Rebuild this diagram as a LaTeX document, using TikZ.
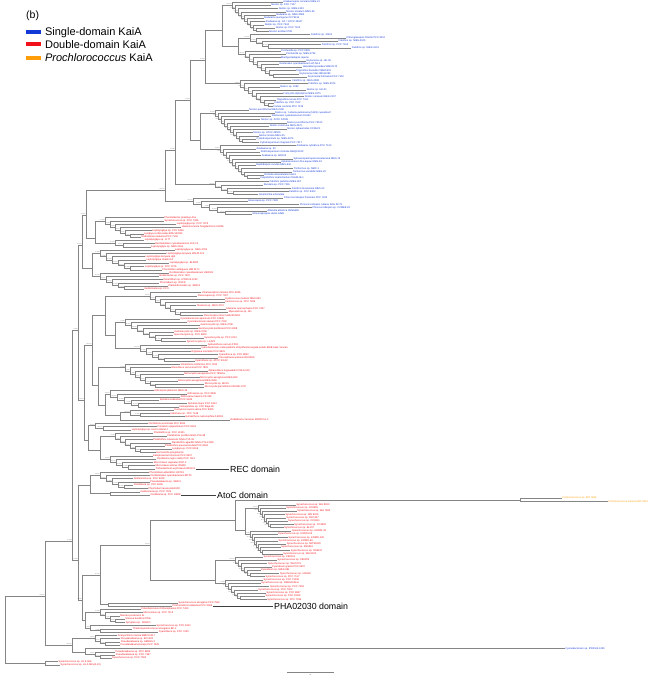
\documentclass[tikz,border=0pt]{standalone}
\usepackage{fontspec}
\setmainfont{Liberation Sans}
\usetikzlibrary{positioning}

\definecolor{KaiBlue}{HTML}{1238D6}
\definecolor{KaiRed}{HTML}{F2101A}
\definecolor{KaiOrange}{HTML}{FF9E0A}
\definecolor{TreeGray}{HTML}{858585}

\newcommand\leaffont{\fontsize{2.5}{2.7}\selectfont}
\newcommand\suppfont{\fontsize{1.3}{1.4}\selectfont}
\def\yzero{2}
\def\ystep{3.265}

% support value shown at an inner node
\newcommand\suppval[1]{\ifcase#1 100/100\or 99.6/100\or 97.8/99\or 100/98\or 86.2/94\fi}

% ladder clade: name, parent, x of first node, first leaf index, step, tip x, tip spread, colour, labels
\newcommand\kaiclade[9]{%
  \foreach \lab [count=\k] in {#9} {\xdef\nleaf{\k}}%
  \foreach \lab [count=\k] in {#9} {%
    \pgfmathtruncatemacro\kn{min(\k,\nleaf-1)}%
    \pgfmathsetmacro\xn{#3+#5*(\kn-1)}%
    \pgfmathsetmacro\yl{\yzero+\ystep*(#4+\k-1)}%
    \pgfmathsetmacro\xt{max(#6+#7*rnd,\xn+5)}%
    \coordinate (#1-\k) at (\xt,\yl);
    \node[leaf,text=#8] (#1-l\k) at (#1-\k) {\lab};
    \ifnum\k<\nleaf
      \pgfmathsetmacro\yn{\yl+\ystep*(1-2^(\k-\nleaf))}%
      \pgfmathtruncatemacro\sidx{mod(\k+#4,5)}%
      \coordinate (#1-n\k) at (\xn,\yn);
      \node[supp] at (#1-n\k) {\suppval{\sidx}};
    \fi
  }%
  \draw[branch] (#2) |- (#1-n1);
  \foreach \k in {1,...,\nleaf} {%
    \pgfmathtruncatemacro\kn{min(\k,\nleaf-1)}%
    \draw[branch] (#1-n\kn) |- (#1-\k);
    \ifnum\k<\numexpr\nleaf-1\relax
      \pgfmathtruncatemacro\kk{\k+1}%
      \draw[branch] (#1-n\k) |- (#1-n\kk);
    \fi
  }%
}

% single leaf: name, parent, index, tip x, colour, label
\newcommand\kaileaf[6]{%
  \pgfmathsetmacro\yl{\yzero+\ystep*#3}%
  \coordinate (#1) at (#4,\yl);
  \draw[branch] (#2) |- (#1);
  \node[leaf,text=#5] (#1-l) at (#1) {#6};
}

\begin{document}
\begin{tikzpicture}[x=1pt,y=-1pt,
    branch/.style={draw=TreeGray, line width=0.4pt},
    leaf/.style={anchor=west, inner sep=0.4pt, font=\leaffont},
    supp/.style={anchor=south east, inner sep=0.2pt, font=\suppfont, text=black!55},
    domtag/.style={anchor=west, inner sep=1pt, font=\fontsize{8.8}{10}\selectfont},
    domline/.style={draw=black!75, line width=0.5pt},
    swatch/.style={minimum width=15pt, minimum height=4pt, inner sep=0pt},
    legtext/.style={font=\fontsize{11}{13}\selectfont, inner sep=0pt}]

  \useasboundingbox (0,0) rectangle (669,677);
  \pgfmathsetseed{17}

  % legend
  \node[anchor=west, inner sep=0pt, font=\fontsize{10.5}{12}\selectfont] (tag) at (26,16) {(b)};
  \node[swatch, fill=KaiBlue]   (swS) at (33.2,32.5) {};
  \node[swatch, fill=KaiRed]    (swD) at (33.2,44.2) {};
  \node[swatch, fill=KaiOrange] (swP) at (33.2,57.8) {};
  \node[legtext, right=4pt of swS] (txS) {Single-domain KaiA};
  \node[legtext, right=4pt of swD] (txD) {Double-domain KaiA};
  \node[legtext, right=4pt of swP] (txP) {\itshape Prochlorococcus\upshape{} KaiA};

  % backbone nodes
  \foreach \n/\x/\y in {R0/5/630, N1/45/596, N2/72/541, N3/78/330, K/82/245,
      N4/86/215, X/165/190, U/175/150, V/190/100, W/205/60, Wa/222/30,
      Bb/238/46, Y/200/140, L/95/238, M/92/268, Q/84/400, C/92/345,
      C1/105/315, C1b/115/335, C2/98/385, C2b/105/405, Cfr/120/415,
      Q2/88/440, O/100/450, N6/78/560, P/90/485, Pb/110/493.4, N7/82/600,
      S/100/575, S1/150/545, S1a/235/520, Or/520/499.9, Sy1/245/530,
      Sy2/215/580, SEP/108/604.4, N8/85/620, NP/72/645, PsB/85/652, JA/45/663.1}
    \coordinate (\n) at (\x,\y);

  \foreach \a/\b in {R0/N1, R0/JA, N1/N2, N1/NP, N2/N3, N2/N6, N3/K, N3/Q,
      K/N4, K/M, N4/X, N4/L, X/U, U/V, V/W, V/Y, W/Wa, Wa/Bb, Q/C, Q/Q2,
      C/C1, C/C2, C1/C1b, C2/C2b, C2b/Cfr, Q2/O, N6/P, N6/N7, P/Pb, N7/S,
      N7/N8, S/S1, S/SEP, S1/S1a, S1/Sy2, S1a/Or, S1a/Sy1, NP/PsB}
    \draw[branch] (\a) |- (\b);

  \foreach \n [count=\i] in {N1, N2, N3, K, N4, X, U, V, W, Q, C, N6, N7, S, S1, NP}
    {\pgfmathtruncatemacro\sidx{mod(\i,5)}\node[supp] at (\n) {\suppval{\sidx}};}

  % single-domain clades
  \kaiclade{Ba}{Wa}{232}{0}{3}{262}{25}{KaiBlue}{Anabaenopsis circularis NIES-21,
    Nostoc sp. PCC 7107, Nostoc sp. NIES-4103, Nostoc minutum NIES-26,
    Nodularia sp. NIES-3585, Nodularia spumigena CCY9414, Anabaena sp. CA = ATCC 33047,
    Nostoc sp. PCC 7524, Nostoc sp. PCC 7120, Nostoc azollae 0708}
  \kaiclade{Bb1}{Bb}{250}{10}{6}{300}{60}{KaiBlue}{Calothrix sp. 336/3,
    Chlorogloeopsis fritschii PCC 9212, Calothrix sp. NIES-4105,
    Calothrix sp. PCC 7103, Calothrix sp. NIES-4101}
  \kaiclade{Bb2}{Bb}{245}{15}{4}{275}{40}{KaiBlue}{Fischerella sp. PCC 9605,
    Fischerella sp. NIES-3754, Mastigocladopsis repens, Scytonema sp. HK-05,
    Nostocales cyanobacterium HT-58-2, Hassallia byssoidea VB512170,
    Tolypothrix bouteillei VB521301, Scytonema millei VB511283, Scytonema hofmannii PCC 7110}
  \kaiclade{Bc}{W}{240}{24}{4}{272}{40}{KaiBlue}{Calothrix sp. NIES-2098,
    Calothrix sp. NIES-3974, Nostoc sp. 106C, Nostoc sp. HK-01,
    Fremyella diplosiphon NIES-3275, Nostoc carneum NIES-2107,
    Tolypothrix tenuis PCC 7101, Calothrix sp. PCC 7507, Fortiea contorta PCC 7126}
  \kaiclade{Bd}{Y}{215}{33}{3}{248}{40}{KaiBlue}{Nostoc punctiforme NIES-2108,
    Nostoc sp. 'Lobaria pulmonaria (5183) cyanobiont', Nostocales cyanobacterium KU-B2,
    Nostoc sp. ATCC 53789, Nostoc punctiforme PCC 73102, Nostoc commune NIES-4072,
    Nostoc sphaeroides CCNUC1, Nostoc sp. ATCC 43529, Nostoc linckia NIES-25,
    Cylindrospermum sp. NIES-4074, Cylindrospermum stagnale PCC 7417}
  \kaiclade{Be}{Y}{220}{44}{3}{255}{45}{KaiBlue}{Anabaena cylindrica PCC 7122,
    Anabaena sp. 90, Dolichospermum circinale AWQC131C, Anabaena sp. WA102,
    Sphaerospermopsis kisseleviana NIES-73, Aphanizomenon flos-aquae NIES-81,
    Raphidiopsis curvata NIES-932, Trichormus sp. NMC-1, Trichormus variabilis NIES-23,
    Richelia intracellularis HH01, Cuspidothrix issatschenkoi CHARLIE-1}
  \kaiclade{Bf}{U}{215}{55}{6}{255}{40}{KaiBlue}{Calothrix parietina NIES-267,
    Rivularia sp. PCC 7116, Calothrix brevissima NIES-22, Calothrix sp. PCC 6303,
    Gloeotrichia echinulata}
  \kaiclade{Bg}{X}{193}{60}{8}{245}{70}{KaiBlue}{Chroococcidiopsis thermalis PCC 7203,
    Gloeocapsa sp. PCC 7428, Chroococcidiopsis cubana SAG 39.79,
    Chroococcidiopsis sp. CCMEE 29, Aliterella atlantica CENA595, Gloeocapsopsis dulcis AAB1}

  % double-domain clades
  \kaiclade{La}{L}{105}{66}{5}{140}{45}{KaiRed}{Phormidesmis priestleyi Ana,
    Synechococcus sp. PCC 7336, Leptolyngbya sp. PCC 7375,
    Halomicronema hongdechloris C2206, Leptolyngbya sp. PCC 6406,
    Lyngbya confervoides BDU141951, Nodosilinea nodulosa PCC 7104}
  \kaiclade{Lb}{L}{115}{73}{8}{140}{15}{KaiRed}{Leptolyngbya sp. O-77,
    Oscillatoriales cyanobacterium JSC-12, Leptolyngbya sp. NIES-2104}
  \kaiclade{Ma}{M}{100}{76}{6}{140}{35}{KaiRed}{Leptolyngbya sp. NIES-3755,
    Leptolyngbya boryana IAM M-101, Leptolyngbya boryana dg5, Leptolyngbya ohadii IS1,
    Leptolyngbya sp. BL0902, Leptolyngbya sp. PCC 7376, Phormidium ambiguum IAM M-71}
  \kaiclade{Mb}{M}{100}{83}{6}{135}{35}{KaiRed}{Oscillatoriales cyanobacterium USR001,
    Geitlerinema sp. PCC 7407, Desertifilum sp. IPPAS B-1220, Phormidium sp. OSCR,
    Planktothricoides sp. SR001, Geitlerinema sp. FC II}
  \kaiclade{Ca}{C1}{150}{89}{5}{195}{35}{KaiRed}{Chamaesiphon minutus PCC 6605,
    Pleurocapsa sp. PCC 7327, Hydrococcus rivularis NIES-593, Xenococcus sp. PCC 7305,
    Stanieria sp. NIES-3757, Stanieria cyanosphaera PCC 7437, Myxosarcina sp. GI1,
    Pleurocapsa minor HA4230-MV1}
  \kaiclade{Cb}{C1b}{125}{97}{6}{172}{40}{KaiRed}{Cyanobacterium aponinum PCC 10605,
    Cyanobacterium stanieri PCC 7202, Geminocystis sp. NIES-3708,
    Geminocystis herdmanii PCC 6308, Geminocystis sp. NIES-3709,
    Synechocystis sp. PCC 6803, Synechocystis sp. PCC 6714, Synechocystis sp. LKSZ1}
  \kaiclade{Cc}{C1b}{140}{105}{6}{185}{35}{KaiRed}{Aphanothece sacrum FPU1,
    cyanobacterium endosymbiont of Epithemia turgida isolate EtSB Lake Yunoko,
    Rippkaea orientalis PCC 8801, Cyanothece sp. PCC 8802,
    Crocosphaera watsonii WH 8501, Cyanothece sp. ATCC 51142}
  \kaiclade{Cd}{C2}{125}{111}{5}{168}{40}{KaiRed}{Gloeothece citriformis PCC 7424,
    Gloeothece verrucosa PCC 7822, Aphanothece hegewaldii CCALA 016,
    Microcystis aeruginosa PCC 7806SL, Microcystis aeruginosa NIES-843,
    Microcystis aeruginosa NIES-2549, Microcystis sp. MC19, Microcystis panniformis FACHB-1757}
  \kaiclade{Ce}{C2b}{110}{119}{7}{150}{45}{KaiRed}{Arthrospira platensis NIES-39,
    Arthrospira sp. PCC 8005, Arthrospira maxima CS-328, Spirulina subsalsa PCC 9445,
    Spirulina major PCC 6313, Halospirulina sp. CCC Baja-95}
  \kaiclade{Cf}{Cfr}{130}{125}{10}{160}{25}{KaiRed}{Dactylococcopsis salina PCC 8305,
    Halothece sp. PCC 7418, Euhalothece natronophila Z-M001}
  \kaileaf{Rub}{Cfr}{128}{230}{KaiRed}{Rubidibacter lacunae KORDI 51-2}
  \kaiclade{Cg}{Q2}{95}{129}{8}{120}{40}{KaiRed}{Oscillatoria acuminata PCC 6304,
    Crinalium epipsammum PCC 9333, Leptolyngbya sp. Heron Island J}
  \kaiclade{Oa}{O}{115}{132}{5}{152}{25}{KaiRed}{Planktothrix sp. PCC 11201,
    Planktothrix prolifica NIVA-CYA 98, Planktothrix rubescens NIVA-CYA 18,
    Planktothrix agardhii NIVA-CYA 126/8, Planktothrix paucivesiculata PCC 9631,
    Lyngbya sp. PCC 8106, Hormoscilla pringsheimii}
  \kaiclade{Ob}{O}{110}{139}{6}{148}{18}{KaiRed}{Kamptonema formosum PCC 6407,
    Oscillatoria nigro-viridis PCC 7112, Microcoleus vaginatus FGP-2,
    Microcoleus asticus IPMA8, Trichodesmium erythraeum IMS101}
  \kaiclade{Pa}{P}{100}{144}{6}{128}{30}{KaiRed}{Phormidium willei BDU 130791,
    Oscillatoriales cyanobacterium MTP1, Geitlerinema sp. PCC 9228,
    Pseudanabaena sp. SR411, Oscillatoria sp. PCC 6506, Phormidium lacuna HE10JO}
  \kaileaf{Pb1}{Pb}{150}{140}{KaiRed}{Geitlerinema sp. PCC 7105}
  \kaileaf{Pb2}{Pb}{151}{150}{KaiRed}{Oscillatoria sp. PCC 10802}
  \kaileaf{Or1}{Or}{152}{562}{KaiOrange}{Prochlorococcus sp. MIT 0604}
  \kaileaf{Or2}{Or}{153}{608}{KaiOrange}{Prochlorococcus marinus MIT 9312}
  \kaiclade{Sy1a}{Sy1}{258}{154}{2}{280}{18}{KaiRed}{Synechococcus sp. WH 8020,
    Synechococcus sp. CC9605, Synechococcus sp. WH 7803, Synechococcus sp. WH 8109,
    Synechococcus sp. RCC307, Synechococcus sp. CC9311, Synechococcus sp. CC9902,
    Synechococcus sp. BL107}
  \kaiclade{Sy1b}{Sy1}{250}{162}{2}{274}{20}{KaiRed}{Synechococcus sp. KORDI-49,
    Synechococcus sp. KORDI-52, Synechococcus sp. KORDI-100, Synechococcus sp. KORDI-66,
    Synechococcus sp. MITS9220, Synechococcus sp. RS9916, Synechococcus sp. RS9917,
    Synechococcus sp. WH 8102}
  \kaiclade{Sy2a}{Sy2}{235}{170}{3}{260}{20}{KaiRed}{Synechococcus sp. CB0101,
    Synechococcus sp. CB0205, Synechococcus sp. WH 5701, Cyanobium gracile PCC 6307,
    Cyanobium sp. NIES-981, Synechococcus sp. UW140, Synechococcus sp. PCC 7117}
  \kaiclade{Sy2b}{Sy2}{225}{177}{3}{252}{20}{KaiRed}{Synechococcus sp. PCC 73109,
    Synechococcus sp. NKBG15041c, Synechococcus sp. PCC 7002, Synechococcus sp. PCC 7003,
    Synechococcus sp. PCC 8807, Synechococcus sp. PCC 11901, Synechococcus sp. PCC 7335}
  \kaileaf{SE}{SEP}{184}{178}{KaiRed}{Synechococcus elongatus PCC 7942}
  \kaileaf{Pr}{SEP}{185}{172}{KaiRed}{Prochlorothrix hollandica PCC 9006}
  \kaiclade{Cy}{N8}{100}{186}{5}{118}{25}{KaiRed}{Coleofasciculus chthonoplastes PCC 7420,
    Microcoleus sp. PCC 7113, Moorea producens 3L, Moorea bouillonii PNG, Symploca sp. SIO2C1}
  \kaiclade{Th}{N8}{90}{191}{10}{130}{35}{KaiRed}{Synechococcus sp. PCC 6312,
    Thermosynechococcus elongatus BP-1, Cyanothece sp. PCC 7425}
  \kaiclade{AcPs}{NP}{95}{194}{5}{112}{10}{KaiRed}{Acaryochloris marina MBIC11017,
    Pseudanabaena sp. BC1403, Pseudanabaena sp. ABRG5-3, Pseudanabaena biceps PCC 7429}
  \kaileaf{BL}{PsB}{198}{565}{KaiBlue}{Cyanobacterium sp. IPPAS B-1200}
  \kaiclade{Ps2}{PsB}{95}{199}{5}{110}{8}{KaiRed}{Pseudanabaena sp. PCC 6802,
    Pseudanabaena sp. PCC 7367, Synechococcus sp. PCC 7502}
  \kaileaf{JA1}{JA}{202}{58}{KaiRed}{Synechococcus sp. JA-3-3Ab}
  \kaileaf{JA2}{JA}{203}{60}{KaiRed}{Synechococcus sp. JA-2-3B'a(2-13)}

  % domain call-outs
  \coordinate (recx) at (229,0);
  \coordinate (atocx) at (216,0);
  \coordinate (phax) at (273,0);
  \node[domtag] (rec) at (Ob-5 -| recx) {REC domain};
  \node[domtag] (atoc) at (Pb2 -| atocx) {AtoC domain};
  \node[domtag] (pha) at (Pr -| phax) {PHA02030 domain};
  \draw[domline] (Ob-l5.east) -- (rec.west);
  \draw[domline] (Pb2-l.east) -- (atoc.west);
  \draw[domline] (Pr-l.east) -- (pha.west);

  % scale bar
  \coordinate (sbl) at (287,672);
  \coordinate (sbr) at (334,672);
  \draw[branch] (sbl) -- (sbr);
  \node[font=\suppfont, inner sep=0pt, anchor=north] (sbt) at (310.5,674) {0.1};
\end{tikzpicture}
\end{document}
